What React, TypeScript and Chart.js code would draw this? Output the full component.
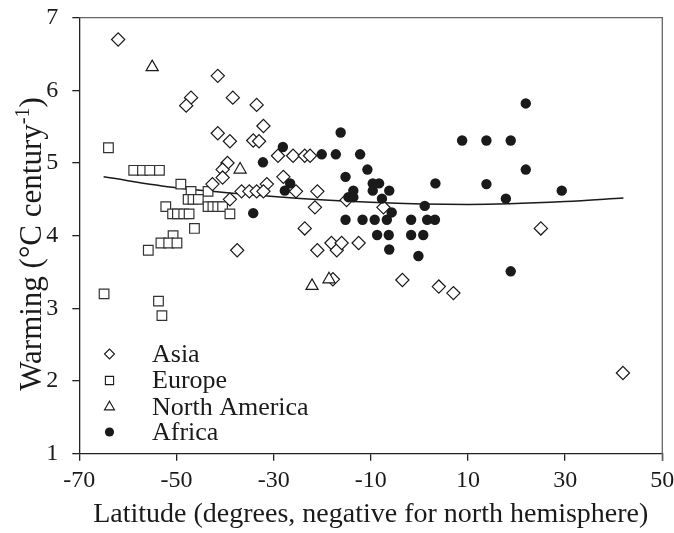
import React, { useEffect, useRef } from 'react';
import { Chart, registerables } from 'chart.js';

Chart.register(...registerables);

const FONT = "'Liberation Serif', 'Times New Roman', serif";

const xTicks = [-70, -50, -30, -10, 10, 30, 50];
const yTicks = [1, 2, 3, 4, 5, 6, 7];

const asiaLat = [-62.0, -41.5, -47.0, -48.0, -38.4, -33.5, -32.1, -41.5, -39.0, -34.2, -33.0, -39.5, -40.5, -40.5, -42.6, -29.1, -26.0, -23.6, -22.5, -28.0, -31.4, -36.6, -35.0, -33.5, -32.1, -25.4, -39.0, -37.5, -23.6, -21.0, -15.0, -21.5, -7.4, -21.0, -18.1, -17.0, -16.0, -12.5, -17.8, -3.5, 4.0, 7.0, 25.0, 41.9];
const asiaWarm = [6.70, 6.20, 5.90, 5.79, 5.90, 5.80, 5.51, 5.41, 5.30, 5.31, 5.30, 5.00, 4.91, 4.80, 4.71, 5.10, 5.10, 5.10, 5.10, 4.81, 4.71, 4.61, 4.61, 4.61, 4.61, 4.61, 4.50, 3.80, 4.10, 4.61, 4.49, 4.39, 4.39, 3.80, 3.90, 3.80, 3.90, 3.90, 3.40, 3.39, 3.30, 3.21, 4.10, 2.11];

const europeLat = [-64.0, -58.8, -57.0, -55.5, -53.5, -49.1, -47.0, -43.5, -47.6, -46.6, -45.5, -43.5, -42.5, -41.5, -40.5, -52.2, -50.8, -49.8, -48.5, -47.4, -39.0, -46.3, -50.7, -53.2, -51.6, -49.9, -55.8, -64.9, -53.7, -53.0];
const europeWarm = [5.21, 4.90, 4.90, 4.90, 4.90, 4.71, 4.61, 4.61, 4.50, 4.50, 4.50, 4.40, 4.40, 4.40, 4.40, 4.40, 4.30, 4.30, 4.30, 4.30, 4.30, 4.10, 4.00, 3.90, 3.90, 3.90, 3.80, 3.20, 3.10, 2.90];

const namLat = [-55.0, -36.9, -22.1, -18.6];
const namWarm = [6.32, 4.91, 3.31, 3.40];

const africaLat = [-28.1, -32.2, -34.2, -26.6, -27.7, -20.1, -17.2, -12.2, -16.2, -10.7, -15.2, -9.6, -8.3, 3.3, -9.6, -13.6, -6.2, -14.6, -13.6, -7.7, 1.1, -5.7, -15.2, -11.7, -9.2, -6.7, -1.7, 1.6, 3.2, -8.7, -6.3, -1.7, 0.8, -6.2, -0.2, 8.8, 21.9, 13.8, 18.8, 21.9, 13.8, 17.8, 29.3, 18.8];
const africaWarm = [5.22, 5.01, 4.31, 4.72, 4.62, 5.12, 5.12, 5.12, 5.42, 4.91, 4.81, 4.72, 4.72, 4.72, 4.62, 4.62, 4.62, 4.53, 4.53, 4.51, 4.41, 4.32, 4.22, 4.22, 4.22, 4.22, 4.22, 4.22, 4.22, 4.01, 4.01, 4.01, 4.01, 3.81, 3.72, 5.31, 5.82, 5.31, 5.31, 4.91, 4.71, 4.51, 4.62, 3.51];

const trendLat = [-65, -50, -30, -10, 10, 30, 42];
const trendWarm = [4.81, 4.66, 4.54, 4.46, 4.43, 4.47, 4.52];

const legendLabels = ['Asia', 'Europe', 'North America', 'Africa'];

const pts = (xs: number[], ys: number[]) => xs.map((x, i) => ({ x, y: ys[i] }));

const W = 674;
const H = 533;
const AREA = { left: 79.3, right: 662.3, top: 17.7, bottom: 453.7 };

function drawSymbol(ctx: CanvasRenderingContext2D, kind: number, x: number, y: number, r: number) {
  ctx.beginPath();
  if (kind === 0) {
    ctx.moveTo(x - r, y);
    ctx.lineTo(x, y - r);
    ctx.lineTo(x + r, y);
    ctx.lineTo(x, y + r);
    ctx.closePath();
    ctx.fillStyle = '#fff';
    ctx.fill();
    ctx.stroke();
  } else if (kind === 1) {
    const s = r * Math.SQRT1_2;
    ctx.rect(x - s, y - s, 2 * s, 2 * s);
    ctx.fillStyle = '#fff';
    ctx.fill();
    ctx.stroke();
  } else if (kind === 2) {
    const a = (2 * Math.PI) / 3;
    ctx.moveTo(x, y - r);
    ctx.lineTo(x + Math.sin(a) * r, y - Math.cos(a) * r);
    ctx.lineTo(x + Math.sin(2 * a) * r, y - Math.cos(2 * a) * r);
    ctx.closePath();
    ctx.fillStyle = '#fff';
    ctx.fill();
    ctx.stroke();
  } else {
    ctx.arc(x, y, r, 0, Math.PI * 2);
    ctx.fillStyle = '#1a1a1a';
    ctx.fill();
  }
}

const decorPlugin = {
  id: 'decor',
  afterDraw(chart: any) {
    const ctx = chart.ctx as CanvasRenderingContext2D;
    const a = chart.chartArea;
    ctx.save();
    // top and right frame
    ctx.strokeStyle = '#666';
    ctx.lineWidth = 1.3;
    ctx.beginPath();
    ctx.moveTo(a.left, a.top);
    ctx.lineTo(a.right, a.top);
    ctx.lineTo(a.right, a.bottom + 7);
    ctx.stroke();

    // legend
    const sizes = [5, 5.8, 5.8, 4.6];
    const rows = [354, 380.5, 407, 432];
    ctx.lineWidth = 1.1;
    ctx.strokeStyle = '#1a1a1a';
    legendLabels.forEach((lab, i) => {
      drawSymbol(ctx, i, 109.5, rows[i], sizes[i]);
      ctx.fillStyle = '#1a1a1a';
      ctx.font = `26px ${FONT}`;
      ctx.textAlign = 'left';
      ctx.textBaseline = 'middle';
      ctx.fillText(lab, 152, rows[i] + 1);
    });

    // y-axis title with superscript
    const main1 = 'Warming (°C century';
    const sup = '-1';
    const main2 = ')';
    const big = `31px ${FONT}`;
    const small = `20px ${FONT}`;
    ctx.font = big;
    const w1 = ctx.measureText(main1).width;
    const w3 = ctx.measureText(main2).width;
    ctx.font = small;
    const w2 = ctx.measureText(sup).width;
    const total = w1 + w2 + w3;
    ctx.translate(41, 244);
    ctx.rotate(-Math.PI / 2);
    ctx.fillStyle = '#1a1a1a';
    ctx.textBaseline = 'alphabetic';
    ctx.textAlign = 'left';
    let px = -total / 2;
    ctx.font = big;
    ctx.fillText(main1, px, 0);
    px += w1;
    ctx.font = small;
    ctx.fillText(sup, px, -12);
    px += w2;
    ctx.font = big;
    ctx.fillText(main2, px, 0);
    ctx.restore();
  },
};

export default function App() {
  const ref = useRef<HTMLCanvasElement | null>(null);

  useEffect(() => {
    if (!ref.current) return;
    const markerBase = {
      borderColor: '#1a1a1a',
      backgroundColor: '#fff',
      borderWidth: 1.2,
      showLine: false,
    };
    const chart = new Chart(ref.current, {
      type: 'scatter',
      data: {
        datasets: [
          {
            type: 'line' as any,
            label: 'trend',
            data: pts(trendLat, trendWarm),
            borderColor: '#1a1a1a',
            borderWidth: 1.5,
            pointRadius: 0,
            fill: false,
            showLine: true,
            cubicInterpolationMode: 'monotone',
            order: 5,
          } as any,
          { ...markerBase, label: 'Europe', data: pts(europeLat, europeWarm), pointStyle: 'rect', pointRadius: 6.8, borderColor: '#333', order: 4 },
          { ...markerBase, label: 'Asia', data: pts(asiaLat, asiaWarm), pointStyle: 'rectRot', pointRadius: 6.6, order: 3 },
          { ...markerBase, label: 'North America', data: pts(namLat, namWarm), pointStyle: 'triangle', pointRadius: 7, order: 2 },
          { label: 'Africa', data: pts(africaLat, africaWarm), pointStyle: 'circle', pointRadius: 5.2, backgroundColor: '#1a1a1a', borderColor: '#1a1a1a', borderWidth: 0, order: 1 },
        ],
      },
      options: {
        responsive: false,
        animation: false,
        layout: { padding: { top: AREA.top, right: W - AREA.right, left: 0, bottom: 0 } },
        plugins: { legend: { display: false }, tooltip: { enabled: false } },
        scales: {
          x: {
            type: 'linear',
            min: -70,
            max: 50,
            afterBuildTicks: (s: any) => { s.ticks = xTicks.map((v) => ({ value: v })); },
            afterFit: (s: any) => { s.height = H - AREA.bottom; s.paddingLeft = 0; s.paddingRight = 0; },
            grid: { drawOnChartArea: false, drawTicks: true, tickLength: 7, color: '#222', lineWidth: 1.3 },
            border: { display: true, color: '#222', width: 1.3 },
            ticks: { font: { family: FONT, size: 24 }, color: '#1a1a1a', padding: 6, maxRotation: 0, autoSkip: false },
            title: {
              display: true,
              text: 'Latitude (degrees, negative for north hemisphere)',
              font: { family: FONT, size: 28 },
              color: '#1a1a1a',
              padding: { top: 0, bottom: 2 },
            },
          },
          y: {
            type: 'linear',
            min: 1,
            max: 7,
            afterBuildTicks: (s: any) => { s.ticks = yTicks.map((v) => ({ value: v })); },
            afterFit: (s: any) => { s.width = AREA.left; s.paddingTop = 0; s.paddingBottom = 0; },
            grid: { drawOnChartArea: false, drawTicks: true, tickLength: 7, color: '#222', lineWidth: 1.3 },
            border: { display: true, color: '#222', width: 1.3 },
            ticks: { font: { family: FONT, size: 24 }, color: '#1a1a1a', padding: 14, autoSkip: false },
          },
        },
      },
      plugins: [decorPlugin],
    });
    return () => chart.destroy();
  }, []);

  return (
    <div style={{ position: 'absolute', left: 0, top: 0, width: W, height: H, background: '#fff' }}>
      <canvas ref={ref} width={W} height={H} style={{ display: 'block', width: W, height: H }} />
    </div>
  );
}
